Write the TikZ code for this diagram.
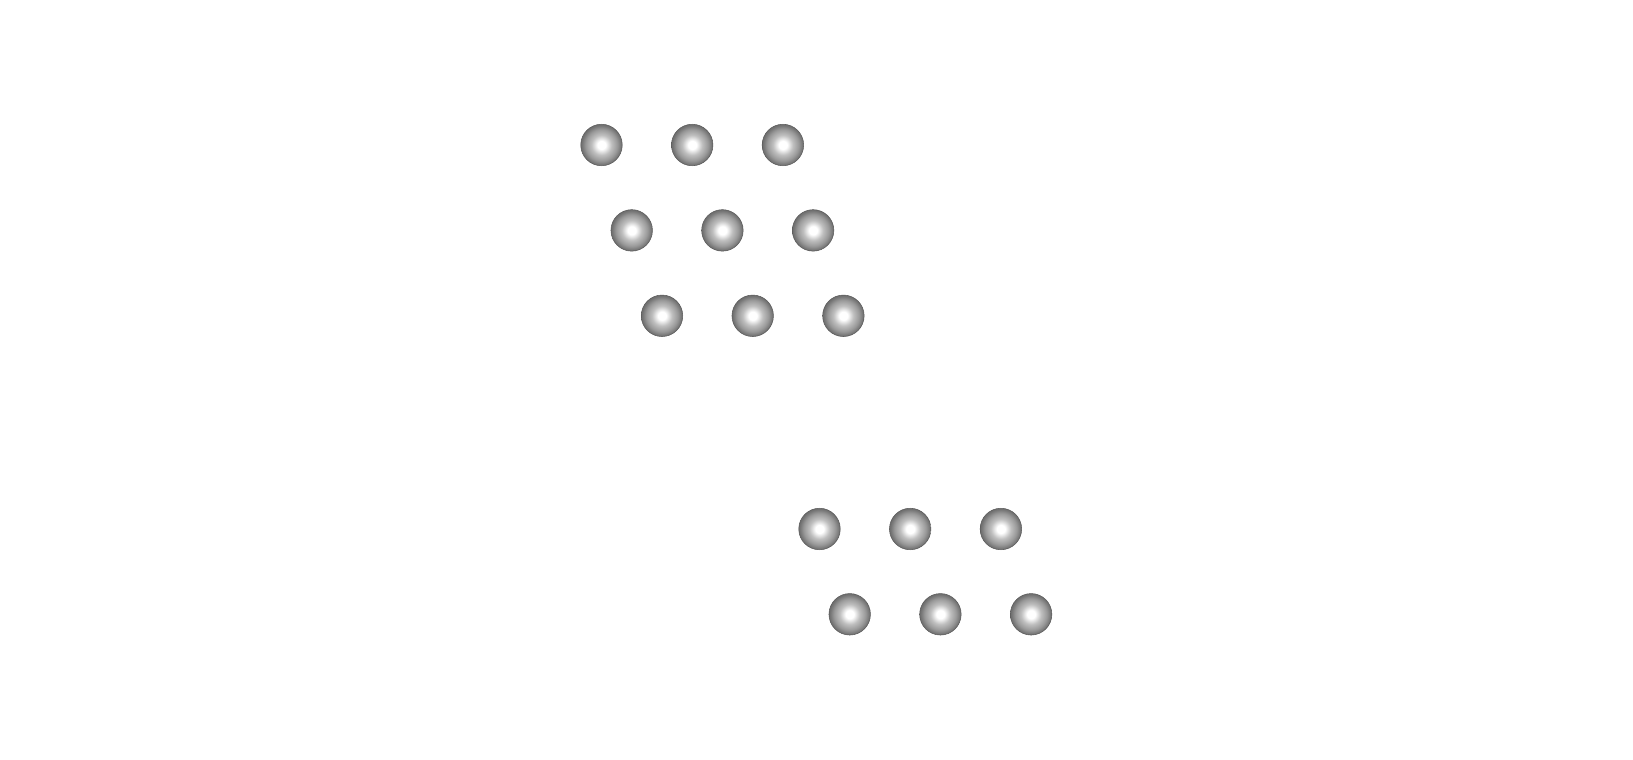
\documentclass[tikz,border=0pt]{standalone}
\pgfdeclareradialshading{sphere}{\pgfpoint{0bp}{0bp}}{%
  color(0bp)=(white); color(5bp)=(white); color(12bp)=(gray!50);
  color(19bp)=(gray!80); color(23bp)=(gray!95!black); color(25bp)=(gray!85!black);
  color(50bp)=(gray!85!black)}
\begin{document}
\begin{tikzpicture}[
  x=0.02cm, y=-0.02cm,
  ballnode/.style={circle, shading=sphere, draw=gray!70!black, line width=0.3pt,
    minimum size=0.83cm, inner sep=0pt}
]
\useasboundingbox (0,0) rectangle (1633,760);
\node[ballnode] (a1) at (601.5,145.0) {};
\node[ballnode] (a2) at (692.2,145.0) {};
\node[ballnode] (a3) at (782.9,145.0) {};
\node[ballnode] (b1) at (631.7,230.4) {};
\node[ballnode] (b2) at (722.4,230.4) {};
\node[ballnode] (b3) at (813.1,230.4) {};
\node[ballnode] (c1) at (662.0,315.8) {};
\node[ballnode] (c2) at (752.7,315.8) {};
\node[ballnode] (c3) at (843.4,315.8) {};
\node[ballnode] (d1) at (819.5,529.0) {};
\node[ballnode] (d2) at (910.2,529.0) {};
\node[ballnode] (d3) at (1000.9,529.0) {};
\node[ballnode] (e1) at (849.7,614.3) {};
\node[ballnode] (e2) at (940.4,614.3) {};
\node[ballnode] (e3) at (1031.1,614.3) {};
\end{tikzpicture}
\end{document}
